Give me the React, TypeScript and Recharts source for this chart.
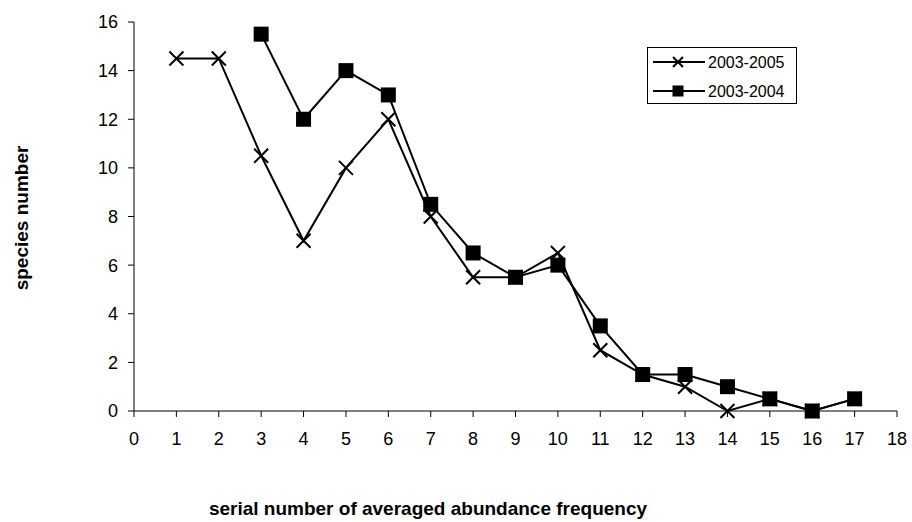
import { LineChart, Line, XAxis, YAxis, Label } from "recharts";

const serial = [1, 2, 3, 4, 5, 6, 7, 8, 9, 10, 11, 12, 13, 14, 15, 16, 17];
const y0305 = [14.5, 14.5, 10.5, 7, 10, 12, 8, 5.5, 5.5, 6.5, 2.5, 1.5, 1, 0, 0.5, 0, 0.5];
const y0304 = [null, null, 15.5, 12, 14, 13, 8.5, 6.5, 5.5, 6, 3.5, 1.5, 1.5, 1, 0.5, 0, 0.5];
const xTicks = [0, 1, 2, 3, 4, 5, 6, 7, 8, 9, 10, 11, 12, 13, 14, 15, 16, 17, 18];
const yTicks = [0, 2, 4, 6, 8, 10, 12, 14, 16];
const seriesNames = ["2003-2005", "2003-2004"];

const data = serial.map((s, i) => ({ s, a: y0305[i], b: y0304[i] }));

const font = "'Liberation Sans', Arial, sans-serif";

const Cross = (props: any) => {
  const { cx, cy } = props;
  if (cx == null || cy == null || props.value == null) return null;
  const r = 7;
  return (
    <g>
      <line x1={cx - r} y1={cy - r} x2={cx + r} y2={cy + r} stroke="#000" strokeWidth={2} />
      <line x1={cx - r} y1={cy + r} x2={cx + r} y2={cy - r} stroke="#000" strokeWidth={2} />
    </g>
  );
};

const Square = (props: any) => {
  const { cx, cy } = props;
  if (cx == null || cy == null || props.value == null) return null;
  return <rect x={cx - 7.5} y={cy - 7.5} width={15} height={15} fill="#000" />;
};

// legend box drawn by hand, sits over the plot's top right
const LegendBox = () => (
  <svg width={152} height={59} style={{ position: "absolute", left: 646, top: 46 }}>
    <rect x={1.5} y={1.5} width={149} height={56} fill="#fff" stroke="#000" strokeWidth={1} />
    {seriesNames.map((name, i) => {
      const cy = 16 + i * 29;
      return (
        <g key={name}>
          <line x1={7} y1={cy} x2={59} y2={cy} stroke="#000" strokeWidth={2} />
          {i === 0 ? (
            <g>
              <line x1={27} y1={cy - 5} x2={37} y2={cy + 5} stroke="#000" strokeWidth={2} />
              <line x1={27} y1={cy + 5} x2={37} y2={cy - 5} stroke="#000" strokeWidth={2} />
            </g>
          ) : (
            <rect x={26.5} y={cy - 5.5} width={11} height={11} fill="#000" />
          )}
          <text x={62} y={cy + 6} fontFamily={font} fontSize={16} fill="#000">
            {name}
          </text>
        </g>
      );
    })}
  </svg>
);

export default function App() {
  return (
    <div style={{ position: "absolute", left: 0, top: 0, width: 912, height: 522, background: "#fff" }}>
      <LineChart width={912} height={522} data={data} margin={{ top: 22, right: 15, left: 0, bottom: 0 }}>
        <XAxis
          dataKey="s"
          type="number"
          domain={[0, 18]}
          ticks={xTicks}
          interval={0}
          height={111}
          stroke="#000"
          tickSize={6}
          tick={{ fill: "#000", fontSize: 18, fontFamily: font, dy: 13 }}
        >
          <Label
            content={() => (
              <text x={428} y={515} textAnchor="middle" fontFamily={font} fontSize={19} fontWeight="bold" fill="#000">
                serial number of averaged abundance frequency
              </text>
            )}
          />
        </XAxis>
        <YAxis
          type="number"
          domain={[0, 16]}
          ticks={yTicks}
          interval={0}
          width={134}
          stroke="#000"
          tickSize={6}
          tick={{ fill: "#000", fontSize: 18, fontFamily: font, dx: -8 }}
        >
          <Label
            content={() => (
              <text
                x={28}
                y={218}
                transform="rotate(-90, 28, 218)"
                textAnchor="middle"
                fontFamily={font}
                fontSize={19}
                fontWeight="bold"
                fill="#000"
              >
                species number
              </text>
            )}
          />
        </YAxis>
        <Line
          dataKey="a"
          name={seriesNames[0]}
          stroke="#000"
          strokeWidth={2}
          dot={<Cross />}
          activeDot={false}
          isAnimationActive={false}
        />
        <Line
          dataKey="b"
          name={seriesNames[1]}
          stroke="#000"
          strokeWidth={2}
          dot={<Square />}
          activeDot={false}
          isAnimationActive={false}
        />
      </LineChart>
      <LegendBox />
    </div>
  );
}
